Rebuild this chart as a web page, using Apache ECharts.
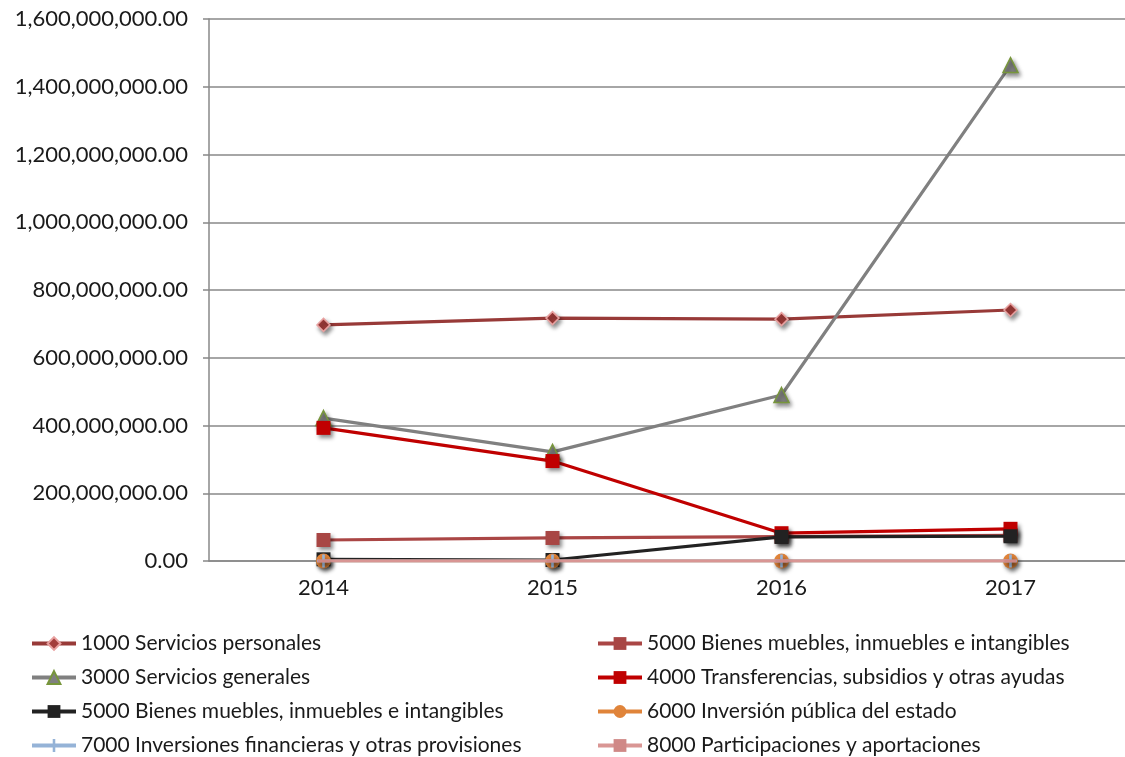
<!DOCTYPE html>
<html>
<head>
<meta charset="utf-8">
<script src="https://cdn.jsdelivr.net/npm/echarts@6/dist/echarts.min.js"></script>
<style>
  html, body { margin: 0; padding: 0; background: #fff; }
  #chart { width: 1125px; height: 757px; }
</style>
</head>
<body>
<div id="chart"></div>
<script>
// Budget by chapter of expense, 2014-2017
const years = ['2014', '2015', '2016', '2017'];
const yTicks = { min: 0, max: 1600000000, step: 200000000 };

const serviciosPersonales   = [697000000, 717000000, 714000000, 741000000];
const bienesMuebles         = [62000000, 68000000, 72000000, 76000000];
const serviciosGenerales    = [422000000, 322000000, 490000000, 1464000000];
const transferencias        = [393000000, 295000000, 82000000, 95000000];
const bienesMueblesB        = [5000000, 3000000, 71000000, 73000000];
const inversionPublica      = [0, 0, 0, 0];
const inversionesFinancieras = [0, 0, 0, 0];
const participaciones       = [0, 0, 0, 0];

const NAME_BIENES = '5000 Bienes muebles, inmuebles e intangibles';
// second series shares the same label; a trailing space keeps the legend entries apart
const NAME_BIENES_B = NAME_BIENES + ' ';

const FONT = 'Lato, "Open Sans", sans-serif';
const shadow = { shadowColor: 'rgba(0,0,0,0.45)', shadowBlur: 4, shadowOffsetX: 2, shadowOffsetY: 3 };

function mkSeries(name, data, color, symbol, size, markerFill, markerBorder, z) {
  return {
    name: name,
    type: 'line',
    data: data,
    z: z,
    symbol: symbol,
    symbolSize: size,
    symbolKeepAspect: true,
    showAllSymbol: true,
    lineStyle: { color: color, width: 3.2 },
    itemStyle: Object.assign({ color: markerFill, borderColor: markerBorder, borderWidth: markerBorder ? 1.5 : 0 }, shadow),
    emphasis: { disabled: true },
    animation: false
  };
}

const plusPath = 'path://M4,0h2v10h-2z M0,4h10v2h-10z';
const dashPath = 'path://M0,4h10v2.5h-10z';

const series = [
  mkSeries('1000 Servicios personales', serviciosPersonales, '#983a38', 'diamond', 13, '#a33d3b', '#e8a1a0', 2),
  mkSeries(NAME_BIENES, bienesMuebles, '#aa4645', 'rect', 14, '#a84644', null, 3),
  mkSeries('3000 Servicios generales', serviciosGenerales, '#808080', 'triangle', 15, '#808080', '#77963b', 4),
  mkSeries('4000 Transferencias, subsidios y otras ayudas', transferencias, '#c00000', 'rect', 14, '#c00000', null, 5),
  mkSeries(NAME_BIENES_B, bienesMueblesB, '#222222', 'rect', 14, '#222222', null, 6),
  mkSeries('6000 Inversión pública del estado', inversionPublica, '#e0843a', 'circle', 15, '#e0843a', null, 7),
  mkSeries('7000 Inversiones financieras y otras provisiones', inversionesFinancieras, '#95b3d7', plusPath, 13, '#95b3d7', null, 8),
  mkSeries('8000 Participaciones y aportaciones', participaciones, '#d99694', dashPath, 12, '#d08886', null, 9)
];

const legendText = { fontFamily: FONT, fontSize: 21, lineHeight: 21, color: '#1a1a1a' };
const legendCommon = {
  orient: 'vertical',
  top: 633,
  itemWidth: 44,
  itemHeight: 16,
  itemGap: 13,
  padding: 0,
  textStyle: legendText,
  lineStyle: { width: 4 },
  formatter: function (n) { return n.trim(); },
  selectedMode: false
};

const chart = echarts.init(document.getElementById('chart'), null, { renderer: 'canvas' });
chart.setOption({
  backgroundColor: '#ffffff',
  animation: false,
  grid: { left: 209, right: 0, top: 19, bottom: 196, containLabel: false },
  xAxis: {
    type: 'category',
    data: years,
    boundaryGap: true,
    axisLine: { show: true, lineStyle: { color: '#888888', width: 1.5 } },
    axisTick: { show: false },
    axisLabel: { fontFamily: FONT, fontSize: 22, color: '#1a1a1a', margin: 16 }
  },
  yAxis: {
    type: 'value',
    min: yTicks.min,
    max: yTicks.max,
    interval: yTicks.step,
    axisLine: { show: true, lineStyle: { color: '#888888', width: 1.5 } },
    axisTick: { show: true, length: 6, lineStyle: { color: '#888888', width: 1.5 } },
    splitLine: { show: true, lineStyle: { color: '#888888', width: 1.5 } },
    axisLabel: {
      fontFamily: FONT, fontSize: 22, color: '#1a1a1a', margin: 21,
      formatter: function (v) {
        return v.toLocaleString('en-US', { minimumFractionDigits: 2, maximumFractionDigits: 2 });
      }
    }
  },
  legend: [
    Object.assign({ left: 30, data: ['1000 Servicios personales', '3000 Servicios generales', NAME_BIENES_B, '7000 Inversiones financieras y otras provisiones'] }, legendCommon),
    Object.assign({ left: 596, data: [NAME_BIENES, '4000 Transferencias, subsidios y otras ayudas', '6000 Inversión pública del estado', '8000 Participaciones y aportaciones'] }, legendCommon)
  ],
  series: series
});
</script>
</body>
</html>
